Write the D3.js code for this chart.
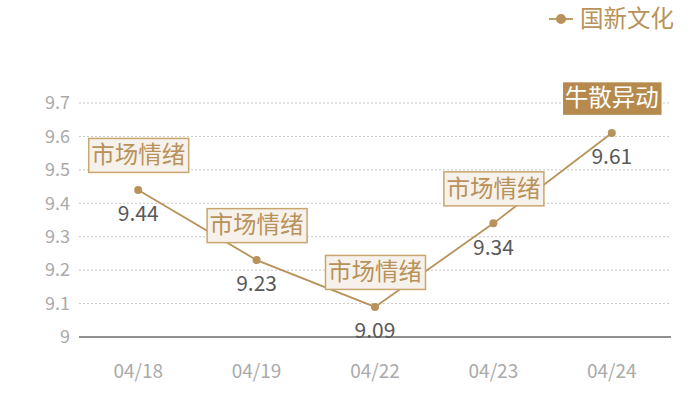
<!DOCTYPE html>
<html>
<head>
<meta charset="utf-8">
<script src="https://cdn.jsdelivr.net/npm/d3@7"></script>
<style>
  body { margin: 0; background: #fff; }
  svg { font-family: "Noto Sans CJK SC", "Noto Sans", sans-serif; }
</style>
</head>
<body>
<svg></svg>
<script>
const dates = ["04/18", "04/19", "04/22", "04/23", "04/24"];
const values = [9.44, 9.23, 9.09, 9.34, 9.61];
const notes = ["市场情绪", "市场情绪", "市场情绪", "市场情绪", "牛散异动"];
const highlight = [false, false, false, false, true];
const yTicks = [9, 9.1, 9.2, 9.3, 9.4, 9.5, 9.6, 9.7];
const seriesName = "国新文化";

const width = 700, height = 400;
const svg = d3.select("svg").attr("width", width).attr("height", height);

const gold = "#b8925a";

const x = d3.scaleBand().domain(dates).range([79, 671]);
const y = d3.scaleLinear().domain([9, 9.7]).range([337, 103]);

// grille pointillée
svg.selectAll(".grid")
  .data(yTicks.filter(d => d > 9))
  .enter()
  .append("line")
  .attr("x1", 79).attr("x2", 671)
  .attr("y1", d => y(d)).attr("y2", d => y(d))
  .attr("stroke", "#c8c8c8")
  .attr("stroke-dasharray", "2,2");

// axe horizontal
svg.append("line")
  .attr("x1", 79).attr("x2", 671)
  .attr("y1", y(9)).attr("y2", y(9))
  .attr("stroke", "#222")
  .attr("stroke-width", 1.2);

// étiquettes Y
svg.selectAll(".ytick")
  .data(yTicks)
  .enter()
  .append("text")
  .attr("x", 70)
  .attr("y", d => y(d))
  .attr("dy", "0.35em")
  .attr("text-anchor", "end")
  .attr("fill", "#aaa")
  .attr("font-size", 18)
  .text(d => d3.format("~g")(d));

// étiquettes X
svg.selectAll(".xtick")
  .data(dates)
  .enter()
  .append("text")
  .attr("x", d => x(d) + x.bandwidth() / 2)
  .attr("y", 371)
  .attr("dy", "0.35em")
  .attr("text-anchor", "middle")
  .attr("fill", "#aaa")
  .attr("font-size", 19)
  .text(d => d);

const pts = dates.map((d, i) => ({ date: d, value: values[i], note: notes[i], hl: highlight[i] }));
const cx = d => x(d.date) + x.bandwidth() / 2;

// ligne
svg.append("path")
  .datum(pts)
  .attr("fill", "none")
  .attr("stroke", gold)
  .attr("stroke-width", 1.8)
  .attr("d", d3.line().x(cx).y(d => y(d.value)));

// points
svg.selectAll(".dot")
  .data(pts)
  .enter()
  .append("circle")
  .attr("cx", cx)
  .attr("cy", d => y(d.value))
  .attr("r", 4)
  .attr("fill", gold);

// valeurs
svg.selectAll(".val")
  .data(pts)
  .enter()
  .append("text")
  .attr("x", cx)
  .attr("y", d => y(d.value) + 24)
  .attr("dy", "0.35em")
  .attr("text-anchor", "middle")
  .attr("fill", "#595959")
  .attr("font-size", 21)
  .text(d => d.value.toFixed(2));

// boîtes d'annotation
const boxW = 100, boxH = 34;
const note = svg.selectAll(".note")
  .data(pts)
  .enter()
  .append("g")
  .attr("transform", d => `translate(${cx(d)},${y(d.value) - 18 - boxH / 2})`);

note.append("rect")
  .attr("x", -boxW / 2 + 0.5)
  .attr("y", -boxH / 2 + 0.5)
  .attr("width", boxW)
  .attr("height", boxH)
  .attr("fill", d => d.hl ? "#b58a4c" : "#f6f1ea")
  .attr("stroke", d => d.hl ? "#fff" : "#c9a670")
  .attr("stroke-width", 1.5);

note.append("text")
  .attr("text-anchor", "middle")
  .attr("dy", "0.35em")
  .attr("font-size", 23.5)
  .attr("fill", d => d.hl ? "#fff" : gold)
  .text(d => d.note);

// légende
const legend = svg.append("g").attr("transform", "translate(549,19)");
legend.append("line").attr("x1", 0).attr("x2", 24).attr("stroke", gold).attr("stroke-width", 1.8);
legend.append("circle").attr("cx", 12).attr("r", 5).attr("fill", gold);
legend.append("text")
  .attr("x", 31)
  .attr("dy", "0.35em")
  .attr("font-size", 23.5)
  .attr("fill", gold)
  .text(seriesName);
</script>
</body>
</html>
